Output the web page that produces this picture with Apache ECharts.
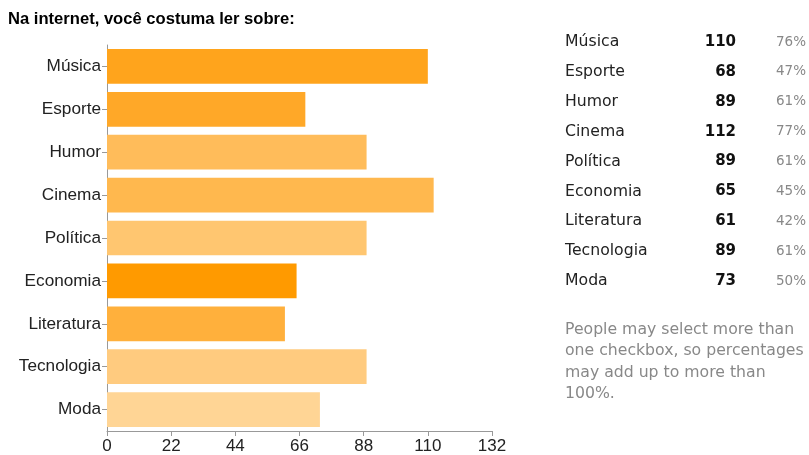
<!DOCTYPE html>
<html>
<head>
<meta charset="utf-8">
<script src="https://cdn.jsdelivr.net/npm/echarts@6/dist/echarts.min.js"></script>
<style>html,body{margin:0;padding:0;background:#fff}#c{width:809px;height:455px}</style>
</head>
<body>
<div id="c"></div>
<script>
const categories = ['Música','Esporte','Humor','Cinema','Política','Economia','Literatura','Tecnologia','Moda'];
const counts = [110, 68, 89, 112, 89, 65, 61, 89, 73];
const percents = ['76%','47%','61%','77%','61%','45%','42%','61%','50%'];
const xTicks = [0, 22, 44, 66, 88, 110, 132];
const titleText = 'Na internet, você costuma ler sobre:';
const noteLines = ['People may select more than','one checkbox, so percentages','may add up to more than','100%.'];
const barColors = ['#FFA41C','#FFA828','#FFBC5A','#FFB84E','#FFC670','#FF9A00','#FFB03C','#FFCB7F','#FFD595'];

const sans = 'Arial, "Liberation Sans", Helvetica, sans-serif';
const chart = echarts.init(document.getElementById('c'));
const graphic = [];
const rowTop = 42, rowStep = 29.9;
categories.forEach((c, i) => {
  const y = rowTop + i * rowStep;
  graphic.push({type:'text', x:565, y:y, style:{text:c, font:'15.7px "DejaVu Sans"', fill:'#222', textVerticalAlign:'middle'}});
  graphic.push({type:'text', x:736, y:y, style:{text:String(counts[i]), font:'bold 15px "DejaVu Sans"', fill:'#111', textAlign:'right', textVerticalAlign:'middle'}});
  graphic.push({type:'text', x:806, y:y, style:{text:percents[i], font:'13.5px "DejaVu Sans"', fill:'#888', textAlign:'right', textVerticalAlign:'middle'}});
});
noteLines.forEach((t, i) => {
  graphic.push({type:'text', x:565, y:329.5 + i*21.6, style:{text:t, font:'15.7px "DejaVu Sans"', fill:'#888', textVerticalAlign:'middle'}});
});

chart.setOption({
  animation:false,
  title:{text:titleText, left:8, top:11, padding:0, textStyle:{fontFamily:sans, fontWeight:'bold', fontSize:16.6, color:'#000'}},
  grid:{left:107, right:317, top:45, bottom:24, containLabel:false},
  xAxis:{type:'value', min:xTicks[0], max:xTicks[xTicks.length-1], interval:22,
    axisLine:{show:true, lineStyle:{color:'#999'}},
    axisTick:{show:true, length:5, lineStyle:{color:'#999'}},
    axisLabel:{fontFamily:sans, fontSize:17, color:'#222', margin:7},
    splitLine:{show:false}},
  yAxis:{type:'category', data:categories, inverse:true,
    axisLine:{show:true, lineStyle:{color:'#999'}},
    axisTick:{show:true, length:5, alignWithLabel:true, lineStyle:{color:'#999'}},
    axisLabel:{fontFamily:sans, fontSize:17.2, color:'#222', margin:6}},
  series:[{type:'bar', data:counts.map((v,i)=>({value:v, itemStyle:{color:barColors[i]}})), barCategoryGap:'19%'}],
  graphic:graphic
});
</script>
</body>
</html>
